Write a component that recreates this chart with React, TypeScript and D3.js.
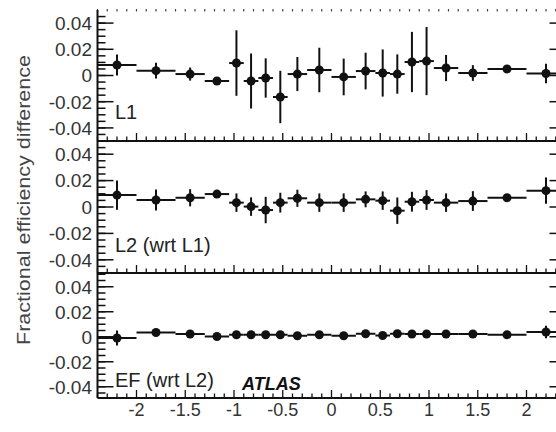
import React from 'react';
import * as d3 from 'd3';

const binEdges = [-2.4, -2.0, -1.6, -1.3, -1.05, -0.9, -0.75, -0.6, -0.45, -0.25, 0, 0.25, 0.45, 0.6, 0.75, 0.9, 1.05, 1.3, 1.6, 2.0, 2.4];

const l1Values = [0.008, 0.0037, 0.0011, -0.0042, 0.0095, -0.0042, -0.0019, -0.0164, 0.0011, 0.0042, -0.0011, 0.0034, 0.0019, 0.0011, 0.0103, 0.011, 0.0057, 0.0019, 0.005, 0.0015];
const l1Errors = [0.008, 0.006, 0.005, 0.0015, 0.025, 0.021, 0.015, 0.02, 0.013, 0.017, 0.014, 0.014, 0.018, 0.015, 0.023, 0.026, 0.01, 0.006, 0.0015, 0.0075];

const l2Values = [0.009, 0.0053, 0.007, 0.0098, 0.0033, 0.0003, -0.0023, 0.0033, 0.0066, 0.0033, 0.0033, 0.0058, 0.0048, -0.0028, 0.004, 0.0053, 0.0033, 0.0045, 0.007, 0.0124];
const l2Errors = [0.011, 0.008, 0.0065, 0.002, 0.007, 0.007, 0.01, 0.0075, 0.0065, 0.007, 0.007, 0.006, 0.007, 0.01, 0.0075, 0.0075, 0.007, 0.0075, 0.0015, 0.01];

const efValues = [-0.001, 0.0034, 0.0022, 0.0002, 0.0016, 0.0016, 0.0016, 0.0016, 0.0008, 0.0016, 0.0008, 0.0024, 0.001, 0.0024, 0.0022, 0.0022, 0.0022, 0.0022, 0.0016, 0.0038];
const efErrors = [0.006, 0.0015, 0.0012, 0.002, 0.0015, 0.0012, 0.0012, 0.0012, 0.0012, 0.0012, 0.0012, 0.0012, 0.0012, 0.0012, 0.0012, 0.0012, 0.0012, 0.0012, 0.001, 0.005];

const yTickValues = [0.04, 0.02, 0, -0.02, -0.04];
const yTickLabels = ['0.04', '0.02', '0', '-0.02', '-0.04'];
const xTickValues = [-2, -1.5, -1, -0.5, 0, 0.5, 1, 1.5, 2];
const xTickLabels = ['-2', '-1.5', '-1', '-0.5', '0', '0.5', '1', '1.5', '2'];
const panelLabels = ['L1', 'L2 (wrt L1)', 'EF (wrt L2)'];
const yAxisTitle = 'Fractional efficiency difference';
const experimentLabel = 'ATLAS';

const FONT = "'Liberation Sans', Arial, sans-serif";
const INK = '#111';

export default function App() {
  const x = d3.scaleLinear().domain([-2.4, 2.4]).range([97.5, 565.5]);
  const panels = [
    { top: 10, bottom: 141, domain: [-0.05, 0.05], values: l1Values, errors: l1Errors, labelY: 119 },
    { top: 141, bottom: 273, domain: [-0.05, 0.05], values: l2Values, errors: l2Errors, labelY: 252 },
    { top: 273, bottom: 398, domain: [-0.049, 0.051], values: efValues, errors: efErrors, labelY: 387 },
  ];
  const minorX = d3.range(-24, 25).map((i) => i / 10);
  const minorY = d3.range(-10, 11).map((i) => i * 0.005);
  const left = x(-2.4);
  const right = x(2.4);

  return (
    <svg width={556} height={432} style={{ position: 'absolute', left: 0, top: 0, background: '#fff' }}>
      <rect x={0} y={0} width={556} height={432} fill="#fff" />
      {minorX.map((v, i) => (
        <line key={'tt' + i} x1={x(v)} x2={x(v)} y1={9} y2={11.5} stroke="#444" strokeWidth={1.2} />
      ))}
      {panels.map((p, pi) => {
        const y = d3.scaleLinear().domain(p.domain).range([p.bottom, p.top]);
        return (
          <g key={'p' + pi}>
            {minorY.filter((v) => v > p.domain[0] && v < p.domain[1]).map((v, i) => (
              <g key={'my' + i}>
                <line x1={left} x2={left + 8} y1={y(v)} y2={y(v)} stroke={INK} strokeWidth={1.5} />
                <line x1={right} x2={right - 8} y1={y(v)} y2={y(v)} stroke={INK} strokeWidth={1.5} />
              </g>
            ))}
            {yTickValues.map((v, i) => (
              <g key={'yt' + i}>
                <line x1={left} x2={left + 16} y1={y(v)} y2={y(v)} stroke={INK} strokeWidth={1.5} />
                <line x1={right} x2={right - 16} y1={y(v)} y2={y(v)} stroke={INK} strokeWidth={1.5} />
                <text x={92} y={y(v)} dy="0.36em" textAnchor="end" fontFamily={FONT} fontSize={19} fill="#333">
                  {yTickLabels[i]}
                </text>
              </g>
            ))}
            <line x1={left} x2={right} y1={p.bottom} y2={p.bottom} stroke={INK} strokeWidth={1.8} />
            {minorX.map((v, i) => {
              const major = Math.abs(v * 2 - Math.round(v * 2)) < 1e-6;
              return (
                <line key={'xt' + i} x1={x(v)} x2={x(v)} y1={p.bottom} y2={p.bottom - (major ? 8 : 4.5)} stroke={INK} strokeWidth={1.3} />
              );
            })}
            {p.values.map((v, i) => {
              const x0 = x(binEdges[i]);
              const x1 = x(binEdges[i + 1]);
              const cx = x((binEdges[i] + binEdges[i + 1]) / 2);
              const e = p.errors[i];
              return (
                <g key={'d' + i}>
                  <line x1={x0} x2={x1} y1={y(v)} y2={y(v)} stroke={INK} strokeWidth={2} />
                  <line x1={cx} x2={cx} y1={y(v + e)} y2={y(v - e)} stroke={INK} strokeWidth={2} />
                  <circle cx={cx} cy={y(v)} r={4.5} fill={INK} />
                </g>
              );
            })}
            <text x={115} y={p.labelY} fontFamily={FONT} fontSize={20} fill="#222">
              {panelLabels[pi]}
            </text>
          </g>
        );
      })}
      <line x1={left} x2={left} y1={10} y2={398} stroke={INK} strokeWidth={2} />
      <line x1={right} x2={right} y1={10} y2={398} stroke={INK} strokeWidth={2} />
      {xTickValues.map((v, i) => (
        <text key={'xl' + i} x={x(v)} y={416} textAnchor="middle" fontFamily={FONT} fontSize={18} fill="#333">
          {xTickLabels[i]}
        </text>
      ))}
      <text x={242} y={390} fontFamily={FONT} fontSize={18} fontWeight="bold" fontStyle="italic" fill="#111">
        {experimentLabel}
      </text>
      <text
        transform="translate(30,200) rotate(-90)"
        textAnchor="middle"
        fontFamily={FONT}
        fontSize={18}
        fill="#444"
        textLength={290}
        lengthAdjust="spacingAndGlyphs"
      >
        {yAxisTitle}
      </text>
    </svg>
  );
}
